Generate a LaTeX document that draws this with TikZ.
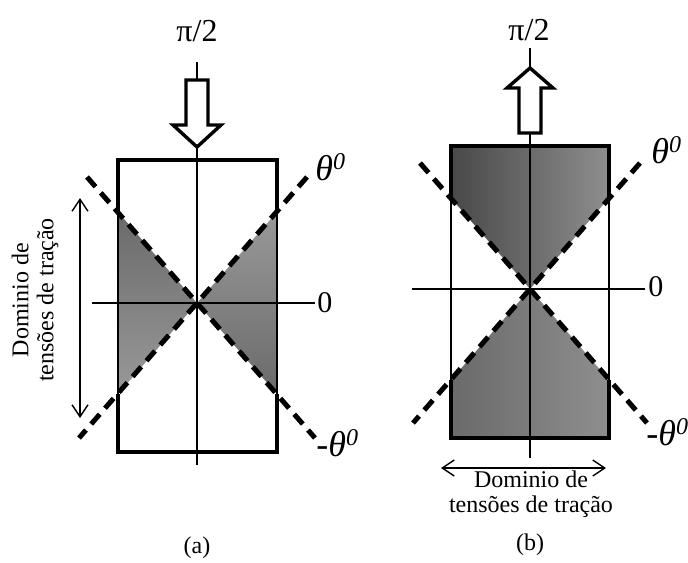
\documentclass[tikz,border=0pt]{standalone}
\usepackage{fontspec}
\setmainfont{Liberation Serif}
\usetikzlibrary{arrows.meta,positioning,calc}
\definecolor{shdark}{HTML}{484848}
\definecolor{shmid}{HTML}{6A6A6A}
\definecolor{shlight}{HTML}{999999}
\definecolor{shpale}{HTML}{8E8E8E}
\newcommand\thetasup{θ\raisebox{5.5pt}{\fontsize{12}{12}\selectfont 0}}
\tikzset{
  thinline/.style={line width=0.8pt,draw=black},
  edge/.style={line width=2pt,draw=black,line join=miter},
  diag/.style={line width=2.5pt,draw=black,dash pattern=on 6.5pt off 4pt},
  hollow/.style={line width=1.7pt,draw=black,fill=white,line join=miter},
  span/.style={{Straight Barb[length=6pt,width=8pt]}-{Straight Barb[length=6pt,width=8pt]},line width=0.7pt},
  tag/.style={inner sep=1pt,font=\fontsize{16}{18}\selectfont},
  zero/.style={inner sep=1pt,anchor=west,font=\fontsize{15}{17}\selectfont},
  ang/.style={inner sep=1pt,anchor=west,font=\fontsize{18}{20}\selectfont\itshape},
  dom/.style={inner sep=0pt,align=center,font=\fontsize{12}{12.5}\selectfont},
  subcap/.style={inner sep=1pt,font=\fontsize{12}{14}\selectfont}
}
\begin{document}
\begin{tikzpicture}[x=0.5pt,y=-0.5pt]
\useasboundingbox (0,0) rectangle (688,562);

% (a)
\coordinate (oa) at (197,303);
\coordinate (a-tl) at (118,160);
\coordinate (a-tr) at (277,160);
\coordinate (a-bl) at (118,452);
\coordinate (a-br) at (277,452);
\coordinate (a-ul) at (118,212);
\coordinate (a-ur) at (277,212);
\coordinate (a-ll) at (118,394);
\coordinate (a-lr) at (277,394);
\coordinate (a-h0) at (92,303);
\coordinate (a-h1) at (315,303);
\coordinate (a-v0) at (197,62);
\coordinate (a-v1) at (197,465);
\coordinate (a-s0) at (80,198);
\coordinate (a-s1) at (80,418);

\shade[top color=shmid,bottom color=shlight] (a-ul) -- (oa) -- (a-ll) -- cycle;
\shade[top color=shlight,bottom color=shmid] (a-ur) -- (oa) -- (a-lr) -- cycle;
\draw[thinline] (a-tl) rectangle (a-br);
\draw[thinline] (a-h0) -- (a-h1);
\draw[thinline] (a-v0) -- (a-v1);
\draw[edge] (a-ul) -- (a-tl) -- (a-tr) -- (a-ur);
\draw[edge] (a-ll) -- (a-bl) -- (a-br) -- (a-lr);
\draw[diag] ($(oa)+(-110,-126)$) -- ($(oa)+(118,135)$);
\draw[diag] ($(oa)+(110,-126)$) -- ($(oa)+(-118,135)$);
\draw[hollow] (186,80) -- (208,80) -- (208,125) -- (221,125) -- (197,147)
  -- (173,125) -- (186,125) -- cycle;
\draw[span] (a-s0) -- (a-s1);

\node[tag] (a-pi) at (197,31) {π/2};
\node[zero] (a-zero) at (315,303) {0};
\node[ang] (a-th) at (313,167) {\thetasup};
\node[ang] (a-mth) at (314,443) {-\thetasup};
\node[dom,rotate=90] (a-dom) at (35,300) {Dominio de\\tensões de tração};
\node[subcap] (a-cap) at (197,548) {(a)};

% (b)
\coordinate (ob) at (530,289);
\coordinate (b-tl) at (451,146);
\coordinate (b-tr) at (609,146);
\coordinate (b-bl) at (451,438);
\coordinate (b-br) at (609,438);
\coordinate (b-ul) at (451,198);
\coordinate (b-ur) at (609,198);
\coordinate (b-ll) at (451,380);
\coordinate (b-lr) at (609,380);
\coordinate (b-h0) at (412,289);
\coordinate (b-h1) at (645,289);
\coordinate (b-v0) at (530,48);
\coordinate (b-v1) at (530,458);
\coordinate (b-s0) at (441,468);
\coordinate (b-s1) at (606,468);

\shade[left color=shdark,right color=shpale] (b-tl) -- (b-tr) -- (b-ur) -- (ob) -- (b-ul) -- cycle;
\shade[left color=shmid,right color=shpale] (ob) -- (b-lr) -- (b-br) -- (b-bl) -- (b-ll) -- cycle;
\draw[thinline] (b-tl) rectangle (b-br);
\draw[thinline] (b-h0) -- (b-h1);
\draw[thinline] (b-v0) -- (b-v1);
\draw[edge] (b-ul) -- (b-tl) -- (b-tr) -- (b-ur);
\draw[edge] (b-ll) -- (b-bl) -- (b-br) -- (b-lr);
\draw[diag] ($(ob)+(-110,-126)$) -- ($(ob)+(117,134)$);
\draw[diag] ($(ob)+(110,-126)$) -- ($(ob)+(-117,134)$);
\draw[hollow] (519,133) -- (541,133) -- (541,88) -- (553,88) -- (530,68)
  -- (507,88) -- (519,88) -- cycle;
\draw[span] (b-s0) -- (b-s1);

\node[tag] (b-pi) at (529,30) {π/2};
\node[zero] (b-zero) at (646,287) {0};
\node[ang] (b-th) at (649,150) {\thetasup};
\node[ang,inner sep=0pt] (b-mth) at (646,432) {-\thetasup};
\node[dom,below=1pt of b-s0,xshift=45pt,anchor=north] (b-dom) {Dominio de\\tensões de tração};
\node[subcap] (b-cap) at (530,545) {(b)};
\end{tikzpicture}
\end{document}
